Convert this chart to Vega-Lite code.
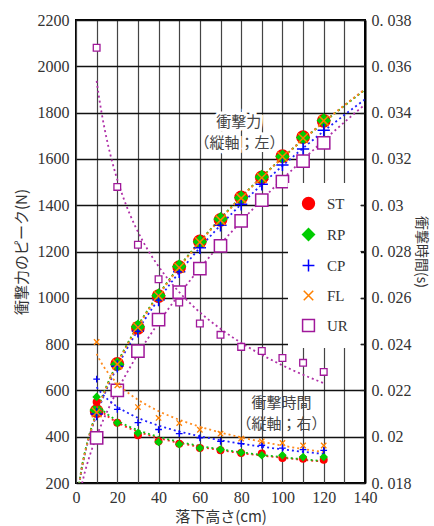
{
  "$schema": "https://vega.github.io/schema/vega-lite/v6.json",
  "width": 289,
  "height": 463,
  "autosize": {"type": "none"},
  "padding": {"left": 76, "top": 20, "right": 69, "bottom": 43},
  "background": "white",
  "config": {
    "font": "Liberation Serif",
    "view": {"stroke": "black", "strokeWidth": 2},
    "axis": {"labelFontSize": 16, "labelColor": "#333", "labelFont": "Liberation Serif", "titleFontSize": 15, "titleFontWeight": "normal", "titleColor": "#333", "titleFont": "Noto Sans CJK JP"}
  },
  "datasets": {
    "d": [
      {"h": 10, "series": "ST", "force": 510, "time": 0.0215},
      {"h": 20, "series": "ST", "force": 715, "time": 0.0206},
      {"h": 30, "series": "ST", "force": 870, "time": 0.02006},
      {"h": 40, "series": "ST", "force": 1007, "time": 0.0198},
      {"h": 50, "series": "ST", "force": 1133, "time": 0.0197},
      {"h": 60, "series": "ST", "force": 1244, "time": 0.01951},
      {"h": 70, "series": "ST", "force": 1337, "time": 0.01941},
      {"h": 80, "series": "ST", "force": 1434, "time": 0.0193},
      {"h": 90, "series": "ST", "force": 1520, "time": 0.01927},
      {"h": 100, "series": "ST", "force": 1612, "time": 0.01908},
      {"h": 110, "series": "ST", "force": 1694, "time": 0.01905},
      {"h": 120, "series": "ST", "force": 1764, "time": 0.019},
      {"h": 10, "series": "RP", "force": 515, "time": 0.02172},
      {"h": 20, "series": "RP", "force": 712, "time": 0.0206},
      {"h": 30, "series": "RP", "force": 875, "time": 0.02016},
      {"h": 40, "series": "RP", "force": 1010, "time": 0.01977},
      {"h": 50, "series": "RP", "force": 1135, "time": 0.01967},
      {"h": 60, "series": "RP", "force": 1242, "time": 0.01951},
      {"h": 70, "series": "RP", "force": 1340, "time": 0.01945},
      {"h": 80, "series": "RP", "force": 1432, "time": 0.01932},
      {"h": 90, "series": "RP", "force": 1522, "time": 0.0192},
      {"h": 100, "series": "RP", "force": 1610, "time": 0.0192},
      {"h": 110, "series": "RP", "force": 1692, "time": 0.01912},
      {"h": 120, "series": "RP", "force": 1766, "time": 0.01912},
      {"h": 10, "series": "CP", "force": 498, "time": 0.02249},
      {"h": 20, "series": "CP", "force": 704, "time": 0.02118},
      {"h": 30, "series": "CP", "force": 855, "time": 0.02061},
      {"h": 40, "series": "CP", "force": 990, "time": 0.02031},
      {"h": 50, "series": "CP", "force": 1112, "time": 0.02013},
      {"h": 60, "series": "CP", "force": 1216, "time": 0.01995},
      {"h": 70, "series": "CP", "force": 1313, "time": 0.0198},
      {"h": 80, "series": "CP", "force": 1404, "time": 0.0197},
      {"h": 90, "series": "CP", "force": 1490, "time": 0.01963},
      {"h": 100, "series": "CP", "force": 1574, "time": 0.01951},
      {"h": 110, "series": "CP", "force": 1643, "time": 0.01944},
      {"h": 120, "series": "CP", "force": 1724, "time": 0.01941},
      {"h": 10, "series": "FL", "force": 505, "time": 0.02409},
      {"h": 20, "series": "FL", "force": 713, "time": 0.02222},
      {"h": 30, "series": "FL", "force": 872, "time": 0.02128},
      {"h": 40, "series": "FL", "force": 1008, "time": 0.02081},
      {"h": 50, "series": "FL", "force": 1130, "time": 0.02059},
      {"h": 60, "series": "FL", "force": 1240, "time": 0.0203},
      {"h": 70, "series": "FL", "force": 1335, "time": 0.02013},
      {"h": 80, "series": "FL", "force": 1430, "time": 0.01992},
      {"h": 90, "series": "FL", "force": 1518, "time": 0.0198},
      {"h": 100, "series": "FL", "force": 1610, "time": 0.01973},
      {"h": 110, "series": "FL", "force": 1690, "time": 0.01962},
      {"h": 120, "series": "FL", "force": 1765, "time": 0.01962},
      {"h": 10, "series": "UR", "force": 395, "time": 0.0368},
      {"h": 20, "series": "UR", "force": 600, "time": 0.03079},
      {"h": 30, "series": "UR", "force": 770, "time": 0.02829},
      {"h": 40, "series": "UR", "force": 906, "time": 0.0268},
      {"h": 50, "series": "UR", "force": 1025, "time": 0.0258},
      {"h": 60, "series": "UR", "force": 1126, "time": 0.02489},
      {"h": 70, "series": "UR", "force": 1224, "time": 0.0244},
      {"h": 80, "series": "UR", "force": 1332, "time": 0.02388},
      {"h": 90, "series": "UR", "force": 1422, "time": 0.0237},
      {"h": 100, "series": "UR", "force": 1502, "time": 0.0234},
      {"h": 110, "series": "UR", "force": 1590, "time": 0.02319},
      {"h": 120, "series": "UR", "force": 1669, "time": 0.0228}
    ],
    "notes": [
      {"h": 78.8, "force": 1759, "text": "衝撃力", "axis": "left"},
      {"h": 79.2, "force": 1668, "text": "（縦軸；左）", "axis": "left"},
      {"h": 99.6, "force": 544, "text": "衝撃時間", "axis": "right"},
      {"h": 99.6, "force": 457, "text": "（縦軸；右）", "axis": "right"}
    ]
  },
  "encoding": {
    "x": {
      "field": "h", "type": "quantitative",
      "scale": {"domain": [0, 140], "nice": false, "zero": false},
      "axis": {
        "title": "落下高さ(cm)",
        "values": [0, 10, 20, 30, 40, 50, 60, 70, 80, 90, 100, 110, 120, 130, 140],
        "labelExpr": "datum.value % 20 === 0 ? datum.label : ''",
        "grid": true, "gridColor": "#444", "gridWidth": 1.2,
        "ticks": false, "tickSize": 0, "domain": false,
        "labelPadding": 6, "titlePadding": 4, "labelFlush": false
      }
    }
  },
  "layer": [
    {
      "data": {"name": "d"},
      "layer": [
        {
          "transform": [{"regression": "force", "on": "h", "groupby": ["series"], "method": "pow", "extent": [1.5, 140]}],
          "mark": {"type": "line", "strokeDash": [2, 3], "strokeWidth": 1.8, "clip": true},
          "encoding": {
            "y": {"field": "force", "type": "quantitative"},
            "color": {"field": "series", "type": "nominal", "legend": null,
              "scale": {"domain": ["UR", "FL", "CP", "RP", "ST"], "range": ["#b030a8", "#ff8c20", "#2020ff", "#10c010", "#ff2020"]}}
          }
        },
        {
          "mark": {"type": "point", "size": 150, "strokeWidth": 1.5, "opacity": 1, "filled": false},
          "encoding": {
            "y": {
              "field": "force", "type": "quantitative",
              "scale": {"domain": [200, 2200], "nice": false, "zero": false},
              "axis": {
                "orient": "left", "title": "衝撃力のピーク(N)",
                "values": [200, 300, 400, 500, 600, 700, 800, 900, 1000, 1100, 1200, 1300, 1400, 1500, 1600, 1700, 1800, 1900, 2000, 2100, 2200],
                "labelExpr": "datum.value % 200 === 0 ? datum.label : ''",
                "format": "d",
                "grid": true,
                "gridColor": {"condition": {"test": "datum.value % 200 === 0", "value": "#111"}, "value": "#777"},
                "gridWidth": {"condition": {"test": "datum.value % 200 === 0", "value": 1.4}, "value": 1.6},
                "ticks": false, "tickSize": 0, "domain": false,
                "labelPadding": 7, "titlePadding": 8
              }
            },
            "shape": {"field": "series", "type": "nominal",
              "scale": {"domain": ["ST", "RP", "CP", "FL", "UR"], "range": ["circle", "diamond", "M-1,0H1M0,-1V1", "M-0.8,-0.8L0.8,0.8M-0.8,0.8L0.8,-0.8", "square"]},
              "legend": {"orient": "none", "legendX": 212, "legendY": 163, "title": null, "fillColor": "white", "padding": 13, "zindex": 0,
                "labelFontSize": 15, "labelColor": "#333", "symbolSize": 140, "rowPadding": 12, "labelOffset": 11, "symbolStrokeWidth": 1.5, "labelFont": "Liberation Serif"}},
            "fill": {"field": "series", "type": "nominal",
              "scale": {"domain": ["ST", "RP", "CP", "FL", "UR"], "range": ["#ff0000", "#00cc00", "transparent", "transparent", "#ffffff"]}},
            "stroke": {"field": "series", "type": "nominal",
              "scale": {"domain": ["ST", "RP", "CP", "FL", "UR"], "range": ["#ff0000", "#00cc00", "#0000ff", "#ff8000", "#a0189a"]}}
          }
        },
        {
          "data": {"name": "notes"},
          "transform": [{"filter": "datum.axis === 'left'"}],
          "mark": {"type": "text", "font": "Noto Sans CJK JP", "fontSize": 15, "stroke": "white", "strokeWidth": 6, "fill": "white"},
          "encoding": {"y": {"field": "force", "type": "quantitative"}, "text": {"field": "text"}}
        },
        {
          "data": {"name": "notes"},
          "mark": {"type": "text", "font": "Noto Sans CJK JP", "fontSize": 15, "color": "#444"},
          "encoding": {"y": {"field": "force", "type": "quantitative"}, "text": {"field": "text"}}
        }
      ]
    },
    {
      "data": {"name": "d"},
      "layer": [
        {
          "transform": [{"regression": "time", "on": "h", "groupby": ["series"], "method": "pow", "extent": [10, 120]}],
          "mark": {"type": "line", "strokeDash": [2, 3], "strokeWidth": 1.8, "clip": true},
          "encoding": {
            "y": {"field": "time", "type": "quantitative"},
            "color": {"field": "series", "type": "nominal", "legend": null}
          }
        },
        {
          "mark": {"type": "point", "size": 45, "strokeWidth": 1.3, "opacity": 1, "filled": false},
          "encoding": {
            "y": {
              "field": "time", "type": "quantitative",
              "scale": {"domain": [0.018, 0.038], "nice": false, "zero": false},
              "axis": {
                "orient": "right", "title": "衝撃時間(s)", "titleFontSize": 14, "zindex": 2,
                "values": [0.018, 0.019, 0.02, 0.021, 0.022, 0.023, 0.024, 0.025, 0.026, 0.027, 0.028, 0.029, 0.03, 0.031, 0.032, 0.033, 0.034, 0.035, 0.036, 0.037, 0.038],
                "labelExpr": "round(datum.value * 1000) % 2 === 0 ? replace(format(datum.value, '.3~f'), '.', '. ') : ''",
                "grid": false, "ticks": true, "tickSize": -5, "tickColor": "#222", "tickWidth": 1.2,
                "domain": true, "domainColor": "black", "domainWidth": 2,
                "labelPadding": 11, "titlePadding": 2
              }
            },
            "shape": {"field": "series", "type": "nominal"},
            "fill": {"field": "series", "type": "nominal"},
            "stroke": {"field": "series", "type": "nominal"}
          }
        }
      ]
    }
  ],
  "resolve": {"scale": {"y": "independent"}, "axis": {"y": "independent"}}
}
